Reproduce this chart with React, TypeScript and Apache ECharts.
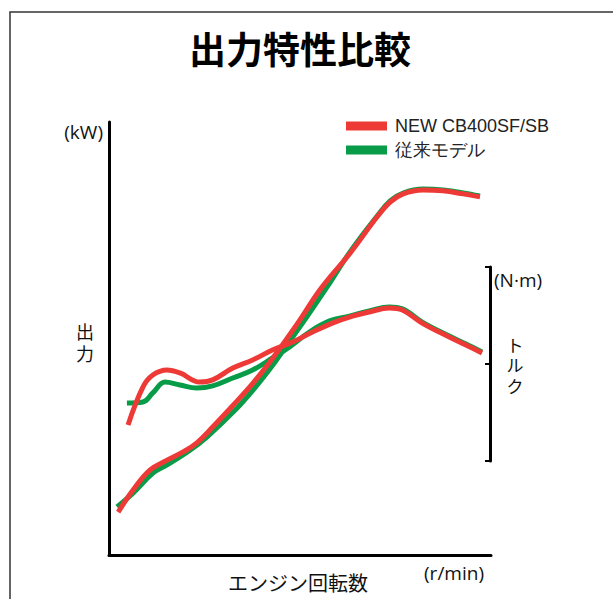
import React, { useEffect, useRef } from "react";
import * as echarts from "echarts";

// x: engine speed (relative units 0–100), y: relative output / torque (0–100)
const newPowerX = [2.4, 6.3, 10.7, 15.2, 19.4, 23.0, 27.2, 32.5, 37.7, 42.9, 50.0, 55.2, 63.1, 70.2, 73.6, 77.0, 82.2, 87.4, 92.7, 97.1];
const newPowerY = [9.9, 15.0, 19.6, 21.9, 23.8, 25.9, 29.6, 34.6, 39.7, 45.5, 54.3, 61.2, 69.7, 78.1, 81.5, 83.4, 84.3, 84.1, 83.4, 82.7];

const oldPowerX = [2.1, 6.3, 11.5, 15.2, 21.2, 25.7, 32.5, 37.7, 42.9, 46.6, 51.8, 57.1, 63.1, 70.2, 73.6, 77.0, 82.2, 87.4, 92.7, 97.1];
const oldPowerY = [11.1, 14.3, 18.9, 20.8, 24.2, 27.3, 33.0, 38.1, 43.9, 48.5, 55.0, 61.9, 70.0, 78.3, 81.8, 83.6, 84.5, 84.3, 83.6, 82.9];

const newTorqueX = [5.0, 8.9, 11.5, 15.2, 18.6, 23.8, 27.2, 32.5, 37.7, 42.9, 48.2, 53.4, 58.6, 63.1, 68.3, 73.6, 77.0, 82.2, 89.3, 93.7, 97.9];
const newTorqueY = [18.6, 38.1, 44.3, 46.9, 45.4, 40.7, 41.8, 47.9, 52.1, 57.2, 61.3, 66.5, 71.1, 74.2, 76.8, 78.9, 77.8, 71.1, 63.9, 59.8, 55.7];

const oldTorqueX = [4.7, 8.9, 11.5, 14.7, 18.6, 23.0, 27.2, 32.5, 37.7, 42.9, 47.4, 52.6, 57.9, 63.1, 68.3, 73.6, 77.0, 82.2, 89.3, 93.7, 97.9];
const oldTorqueY = [29.9, 30.4, 35.1, 40.7, 39.2, 37.6, 38.7, 42.8, 46.9, 53.1, 58.8, 66.5, 72.2, 74.7, 77.3, 79.4, 78.4, 71.6, 64.4, 60.3, 56.2];

const seriesNames = ["NEW CB400SF/SB", "従来モデル"];
const title = "出力特性比較";
const powerUnit = "(kW)";
const powerLabel = ["出", "力"];
const torqueUnit = "(N·m)";
const torqueLabel = ["ト", "ル", "ク"];
const rpmLabel = "エンジン回転数";
const rpmUnit = "(r/min)";

const RED = "#ee3a36";
const GREEN = "#089b48";
const CJK = "'Noto Sans CJK JP', 'Noto Sans', sans-serif";
const LATIN = "'Liberation Sans', Arial, sans-serif";
const UNIT = "'Open Sans', 'Noto Sans', sans-serif";

const zip = (xs: number[], ys: number[]) => xs.map((x, i) => [x, ys[i]]);

export default function App() {
  const ref = useRef<HTMLDivElement>(null);
  useEffect(() => {
    if (!ref.current) return;
    const chart = echarts.init(ref.current, undefined, { renderer: "svg" });
    const line = (name: string, color: string, data: number[][], axis: number) => ({
      name,
      type: "line",
      xAxisIndex: axis,
      yAxisIndex: axis,
      data,
      smooth: 0.4,
      showSymbol: false,
      symbol: "none",
      lineStyle: { color, width: 5 },
      itemStyle: { color },
    });
    const vertical = (chars: string[], x: number, yTop: number, step: number, size: number) =>
      chars.map((c, i) => ({
        type: "text",
        x,
        y: yTop + i * step,
        style: {
          text: c, align: "center", verticalAlign: "middle",
          font: `${size}px ${CJK}`, lineHeight: size, fill: "#111",
        },
      }));
    chart.setOption({
      animation: false,
      backgroundColor: "#ffffff",
      title: {
        text: title,
        left: 184,
        top: 24,
        textStyle: { fontFamily: CJK, fontSize: 37, fontWeight: "bold", color: "#000" },
      },
      legend: {
        data: seriesNames,
        orient: "vertical",
        left: 346,
        top: 117,
        padding: 0,
        icon: "rect",
        itemWidth: 41,
        itemHeight: 9,
        itemGap: 6,
        textStyle: { fontFamily: LATIN, fontSize: 18, color: "#222", padding: [0, 0, 0, 3] },
      },
      grid: [
        { left: 109, top: 122, width: 382, height: 433 },
        { left: 109, top: 267, width: 381, height: 194 },
      ],
      xAxis: [
        {
          type: "value", gridIndex: 0, min: 0, max: 100,
          axisLine: { show: true, onZero: false, lineStyle: { color: "#000", width: 3 } },
          axisTick: { show: false }, axisLabel: { show: false }, splitLine: { show: false },
        },
        {
          type: "value", gridIndex: 1, min: 0, max: 100, show: false,
        },
      ],
      yAxis: [
        {
          type: "value", gridIndex: 0, min: 0, max: 100,
          axisLine: { show: true, onZero: false, lineStyle: { color: "#000", width: 3 } },
          axisTick: { show: false }, axisLabel: { show: false }, splitLine: { show: false },
        },
        {
          type: "value", gridIndex: 1, position: "right", min: 0, max: 100, interval: 50,
          axisLine: { show: true, onZero: false, lineStyle: { color: "#000", width: 3 } },
          axisTick: { show: true, inside: true, length: 5, lineStyle: { color: "#000", width: 2 } },
          axisLabel: { show: false }, splitLine: { show: false },
        },
      ],
      series: [
        line(seriesNames[1], GREEN, zip(oldPowerX, oldPowerY), 0),
        line(seriesNames[1], GREEN, zip(oldTorqueX, oldTorqueY), 1),
        line(seriesNames[0], RED, zip(newPowerX, newPowerY), 0),
        line(seriesNames[0], RED, zip(newTorqueX, newTorqueY), 1),
      ],
      graphic: [
        {
          type: "rect", silent: true, z: -1,
          shape: { x: 10, y: 12, width: 800, height: 800 },
          style: { fill: "none", stroke: "#333", lineWidth: 1.5 },
        },
        {
          type: "text", x: 103, y: 132,
          style: { text: powerUnit, align: "right", verticalAlign: "middle", font: `19px ${UNIT}`, fill: "#111" },
        },
        ...vertical(powerLabel, 85, 331, 22, 18),
        {
          type: "text", x: 494, y: 280,
          style: { text: torqueUnit, align: "left", verticalAlign: "middle", font: `19px ${UNIT}`, fill: "#111" },
        },
        ...vertical(torqueLabel, 515, 344, 20.5, 17),
        {
          type: "text", x: 298, y: 582,
          style: { text: rpmLabel, align: "center", verticalAlign: "middle", font: `20px ${CJK}`, fill: "#111" },
        },
        {
          type: "text", x: 454, y: 573,
          style: { text: rpmUnit, align: "center", verticalAlign: "middle", font: `19px ${UNIT}`, fill: "#111" },
        },
      ],
    });
    return () => chart.dispose();
  }, []);
  return <div ref={ref} style={{ position: "fixed", left: 0, top: 0, width: 613, height: 599 }} />;
}
